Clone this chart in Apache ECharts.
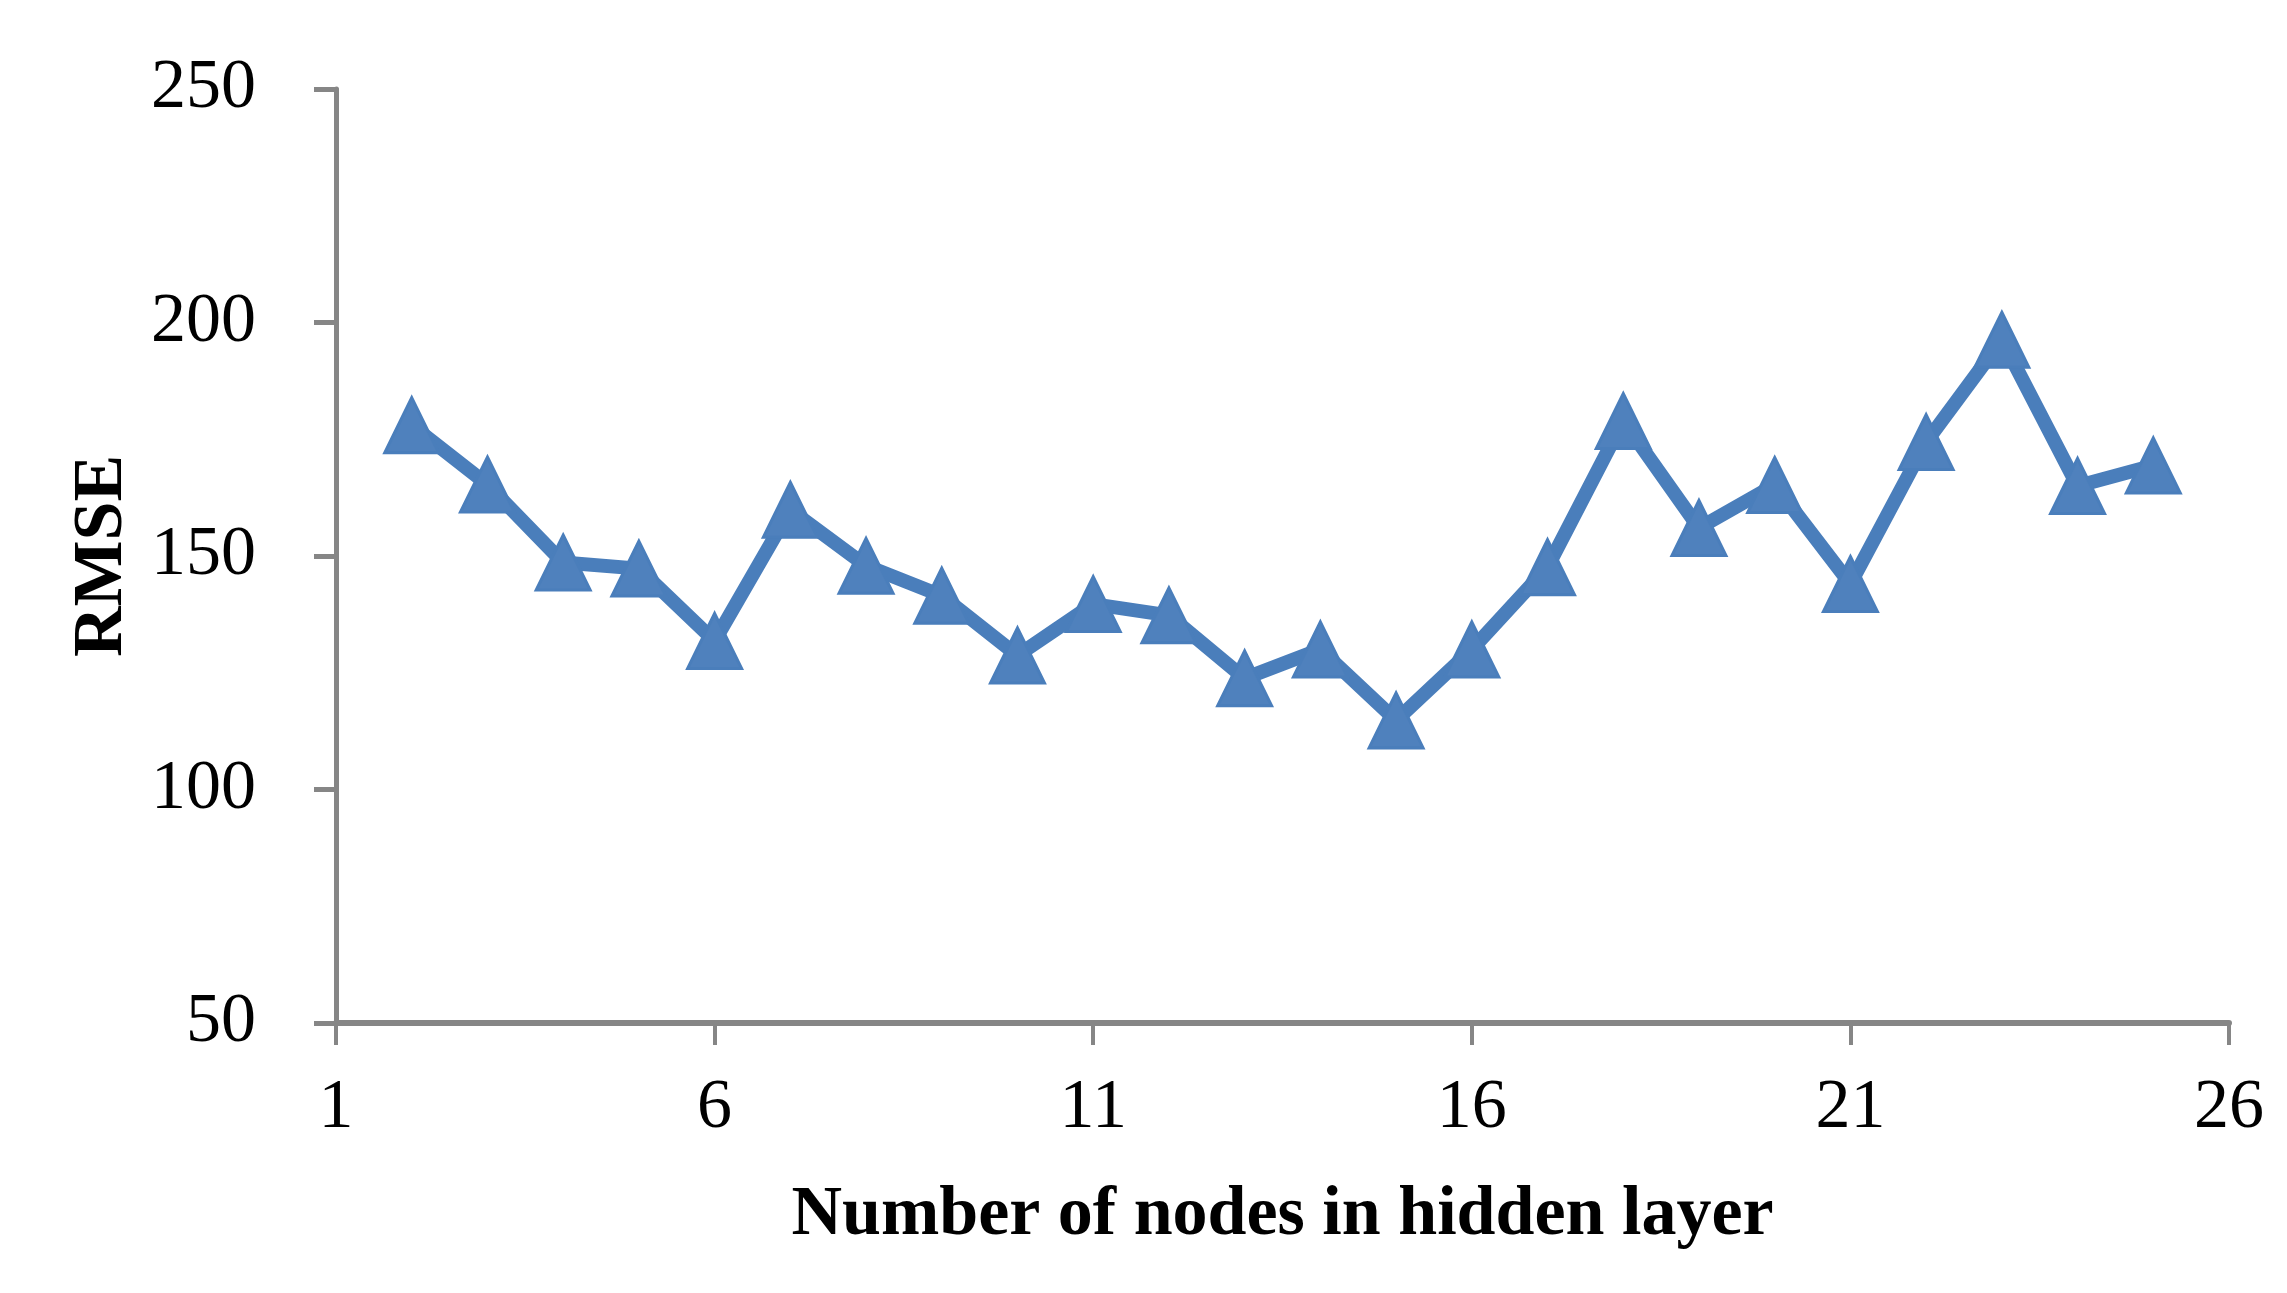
<!DOCTYPE html>
<html>
<head>
<meta charset="utf-8">
<script src="https://cdn.jsdelivr.net/npm/echarts@6/dist/echarts.min.js"></script>
<style>
html,body{margin:0;padding:0;background:#fff;}
#chart{width:2287px;height:1293px;}
</style>
</head>
<body>
<div id="chart"></div>
<script>
// nodes in hidden layer vs RMSE
const nodes = [2,3,4,5,6,7,8,9,10,11,12,13,14,15,16,17,18,19,20,21,22,23,24,25];
const rmse = [178,165.3,148.6,147.3,131.8,159.9,147.9,141.5,128.7,139.7,137.3,123.8,130,114.8,130,147.6,178.9,156,165.2,144,174.4,196.3,165,169.4];
const xTicks = [1,26,5];   // min, max, step
const yTicks = [50,250,50];

const axisGrey = '#868686';
const lineBlue = '#4a7ebb';
const font = '"Liberation Serif", "Times New Roman", serif';

let chart = echarts.init(document.getElementById('chart'));

let option = {
    animation:false,
    backgroundColor:'#fff',
    grid:{
        left:336,
        right:58,
        top:89,
        bottom:270
    },
    xAxis:{
        type:'value',
        min:xTicks[0],
        max:xTicks[1],
        interval:xTicks[2],
        name:'Number of nodes in hidden layer',
        nameLocation:'middle',
        nameGap:158,
        nameTextStyle:{
            fontFamily:font,
            fontWeight:'bold',
            fontSize:70,
            color:'#000'
        },
        axisLine:{
            lineStyle:{color:axisGrey,width:6}
        },
        axisTick:{
            show:true,
            inside:false,
            length:22,
            lineStyle:{color:axisGrey,width:4}
        },
        axisLabel:{
            margin:51,
            fontFamily:font,
            fontSize:70,
            color:'#000'
        },
        splitLine:{show:false}
    },
    yAxis:{
        type:'value',
        min:yTicks[0],
        max:yTicks[1],
        interval:yTicks[2],
        name:'RMSE',
        nameLocation:'middle',
        nameGap:198,
        nameRotate:90,
        nameTextStyle:{
            fontFamily:font,
            fontWeight:'bold',
            fontSize:70,
            color:'#000'
        },
        axisLine:{
            show:true,
            lineStyle:{color:axisGrey,width:5}
        },
        axisTick:{
            show:true,
            length:22,
            lineStyle:{color:axisGrey,width:5}
        },
        axisLabel:{
            margin:80,
            fontFamily:font,
            fontSize:70,
            color:'#000'
        },
        splitLine:{show:false}
    },
    series:[{
        type:'line',
        data:nodes.map(function(n, i) {
            return [n, rmse[i]];
        }),
        symbol:'triangle',
        symbolSize:[54,55],
        showAllSymbol:true,
        lineStyle:{color:lineBlue,width:14},
        itemStyle:{color:'#4f81bd',borderColor:lineBlue,borderWidth:3,opacity:1}
    }]
};
chart.setOption(option);
</script>
</body>
</html>
